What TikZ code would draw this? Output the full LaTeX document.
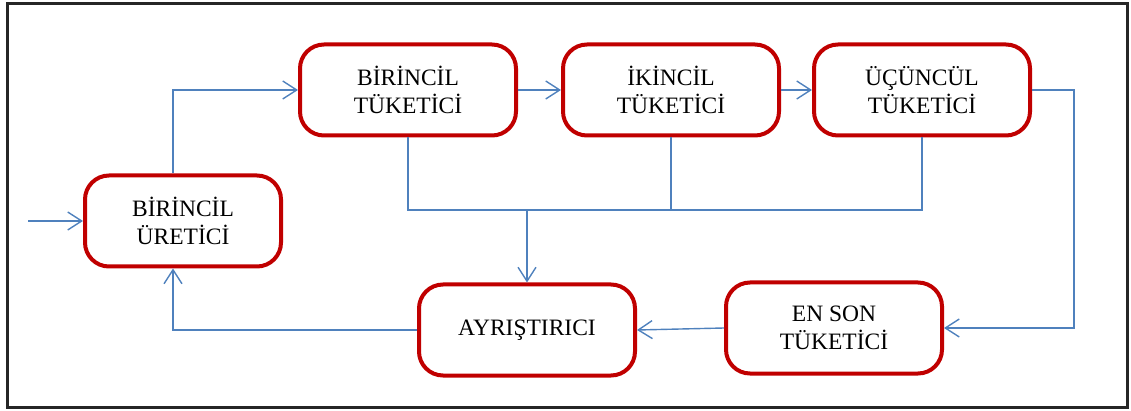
\documentclass[tikz,border=0pt]{standalone}
\usepackage{fontspec}
\setmainfont{Liberation Serif}
\usetikzlibrary{arrows.meta}
\definecolor{boxred}{HTML}{C00000}
\definecolor{linkblue}{HTML}{4F81BD}
\begin{document}
\begin{tikzpicture}[x=1pt,y=-1pt,
  blk/.style={draw=boxred, line width=4pt, rounded corners=24pt, fill=white,
    minimum width=#1, minimum height=91pt, inner sep=0pt, align=center,
    font=\fontsize{23.5}{28}\selectfont},
  blk/.default=216pt,
  link/.style={draw=linkblue, line width=1.4pt},
  conn/.style={link, -{Straight Barb[length=14pt,width=18pt]}}]
\useasboundingbox (0,0) rectangle (1131,411);
\draw[line width=3pt, black!85] (7,4) rectangle (1127,407);

\node[blk=196pt] (u)  at (183,221) {BİRİNCİL\\ÜRETİCİ};
\node[blk] (bt) at (408,90)  {BİRİNCİL\\TÜKETİCİ};
\node[blk] (it) at (671,90)  {İKİNCİL\\TÜKETİCİ};
\node[blk] (ut) at (922,90)  {ÜÇÜNCÜL\\TÜKETİCİ};
\node[blk] (ay) at (527,330) {AYRIŞTIRICI};
\node[blk] (es) at (834,328) {EN SON\\TÜKETİCİ};

\coordinate (in) at (28,221);
\coordinate (b1) at (173,90);
\coordinate (c3) at (1074,90);
\coordinate (bus) at (0,210);

\draw[conn] (in) -- (u.west);
\draw[conn] (u.north -| b1) -- (b1) -- (bt.west);
\draw[conn] (bt.east) -- (it.west);
\draw[conn] (it.east) -- (ut.west);
\draw[conn] (ut.east) -- (c3) -- (c3 |- es.east) -- (es.east);
\draw[conn] (es.west) -- (ay.east);
\draw[conn] (ay.west) -| (u.south -| b1);
\draw[link] (bt.south) -- (bt.south |- bus) -- (ut.south |- bus) -- (ut.south);
\draw[link] (it.south) -- (it.south |- bus);
\draw[conn] (ay.north |- bus) -- (ay.north);
\end{tikzpicture}
\end{document}
